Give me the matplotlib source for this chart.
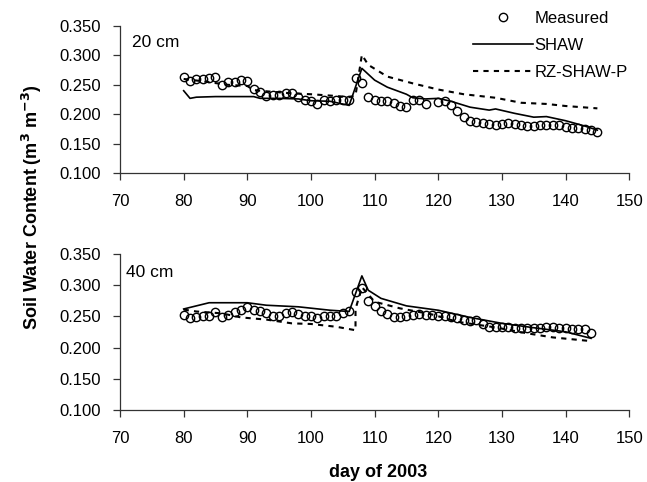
import numpy as np
import matplotlib
matplotlib.use("Agg")
import matplotlib.pyplot as plt

plt.rcParams['font.family'] = ['Liberation Sans', 'DejaVu Sans']

# 20 cm data
meas20_day = list(range(80, 119)) + list(range(120, 146))
meas20 = [0.264, 0.256, 0.260, 0.260, 0.261, 0.263, 0.249, 0.254, 0.255, 0.259,
          0.256, 0.243, 0.237, 0.231, 0.232, 0.233, 0.236, 0.236, 0.230, 0.225,
          0.222, 0.218, 0.224, 0.222, 0.224, 0.224, 0.224, 0.261, 0.253, 0.230,
          0.225, 0.223, 0.222, 0.219, 0.214, 0.213, 0.225, 0.224, 0.217,
          0.221, 0.222, 0.216, 0.205, 0.196, 0.189, 0.186, 0.185, 0.184, 0.182,
          0.183, 0.185, 0.184, 0.182, 0.180, 0.180, 0.181, 0.181, 0.182, 0.181,
          0.179, 0.176, 0.176, 0.175, 0.173, 0.170]
shaw20_day = [80, 81, 82, 85, 88, 91, 92, 95, 98, 100, 103, 106, 108, 110, 112,
              115, 116, 118, 120, 122, 125, 128, 129, 132, 135, 137, 140, 143, 145]
shaw20 = [0.240, 0.227, 0.229, 0.230, 0.230, 0.230, 0.227, 0.227, 0.226, 0.223,
          0.222, 0.215, 0.278, 0.258, 0.246, 0.234, 0.228, 0.226, 0.227, 0.222,
          0.212, 0.207, 0.209, 0.2015, 0.195, 0.196, 0.189, 0.180, 0.173]
rz20_day = [80, 83, 87, 90, 91, 93, 97, 100, 104, 106, 107, 108, 109, 112, 116,
            120, 124, 129, 133, 137, 140, 145]
rz20 = [0.260, 0.256, 0.250, 0.248, 0.241, 0.239, 0.2355, 0.234, 0.231, 0.229,
        0.232, 0.301, 0.284, 0.264, 0.2525, 0.242, 0.234, 0.228, 0.2195, 0.2175,
        0.214, 0.210]

# 40 cm data
meas40_day = list(range(80, 145))
meas40 = [0.252, 0.247, 0.2495, 0.250, 0.250, 0.2575, 0.2495, 0.252, 0.2575, 0.261,
          0.2645, 0.260, 0.258, 0.255, 0.251, 0.251, 0.255, 0.257, 0.254, 0.251,
          0.250, 0.248, 0.250, 0.250, 0.250, 0.256, 0.258, 0.289, 0.295, 0.275,
          0.267, 0.259, 0.254, 0.2495, 0.2495, 0.250, 0.253, 0.254, 0.253, 0.252,
          0.250, 0.250, 0.2485, 0.247, 0.244, 0.243, 0.244, 0.238, 0.2325, 0.2325,
          0.2325, 0.2325, 0.232, 0.232, 0.232, 0.232, 0.231, 0.2325, 0.2325, 0.232,
          0.231, 0.230, 0.230, 0.230, 0.224]
shaw40_day = [80, 84, 90, 93, 98, 103, 106, 108, 109, 111, 115, 120, 125, 130,
              135, 140, 144]
shaw40 = [0.262, 0.272, 0.272, 0.268, 0.2655, 0.260, 0.258, 0.315, 0.292, 0.279,
          0.267, 0.260, 0.2485, 0.239, 0.232, 0.2255, 0.215]
rz40_day = [80, 82, 86, 89, 93, 97, 100, 104, 107, 107, 108, 110, 114, 119, 123,
            129, 134, 138, 144]
rz40 = [0.261, 0.258, 0.255, 0.2485, 0.245, 0.239, 0.238, 0.2335, 0.228, 0.262,
        0.297, 0.2736, 0.263, 0.2533, 0.2415, 0.2325, 0.223, 0.2165, 0.2106]

yticks = [0.100, 0.150, 0.200, 0.250, 0.300, 0.350]
xticks = [70, 80, 90, 100, 110, 120, 130, 140, 150]

fig = plt.figure(figsize=(6.47, 4.82), dpi=100)
ax1 = fig.add_axes([0.1855, 0.641, 0.787, 0.305])
ax2 = fig.add_axes([0.1855, 0.149, 0.787, 0.324])

dash = (0, (2.5, 2.5))
panels = [
    (ax1, meas20_day, meas20, shaw20_day, shaw20, rz20_day, rz20, "20 cm", 0.023, 0.89),
    (ax2, meas40_day, meas40, shaw40_day, shaw40, rz40_day, rz40, "40 cm", 0.012, 0.88),
]
for ax, md, mv, sd, sv, rd, rv, lab, tx, ty in panels:
    ax.plot(md, mv, 'o', ms=6, mfc='none', mec='black', mew=1.0, label='Measured')
    ax.plot(sd, sv, '-', color='black', lw=1.2, label='SHAW')
    ax.plot(rd, rv, linestyle=dash, color='black', lw=1.5, label='RZ-SHAW-P')
    ax.set_xlim(70, 150)
    ax.set_ylim(0.100, 0.350)
    ax.set_xticks(xticks)
    ax.set_yticks(yticks)
    ax.set_yticklabels([f"{v:.3f}" for v in yticks])
    ax.spines['top'].set_visible(False)
    ax.spines['right'].set_visible(False)
    for s in ['left', 'bottom']:
        ax.spines[s].set_linewidth(0.9)
        ax.spines[s].set_color('#333333')
    ax.tick_params(direction='out', length=5, width=0.9, color='#333333',
                   labelsize=12)
    ax.tick_params(axis='x', pad=10)
    ax.tick_params(axis='y', pad=9)
    ax.text(tx, ty, lab, transform=ax.transAxes, fontsize=12.5, va='center')

ax1.legend(loc='upper right', bbox_to_anchor=(0.997, 1.10), frameon=False,
           fontsize=12, handlelength=3.6, handletextpad=0.1, labelspacing=0.72,
           borderpad=0, borderaxespad=0)

fig.text(0.05, 0.57, "Soil Water Content (m$^\\mathbf{3}$ m$^\\mathbf{-3}$)",
         rotation=90, ha='center', va='center', fontsize=13, fontweight='bold')
fig.text(0.584, 0.02, "day of 2003", ha='center', va='center', fontsize=13,
         fontweight='bold')

fig.savefig("out.png", dpi=100)
